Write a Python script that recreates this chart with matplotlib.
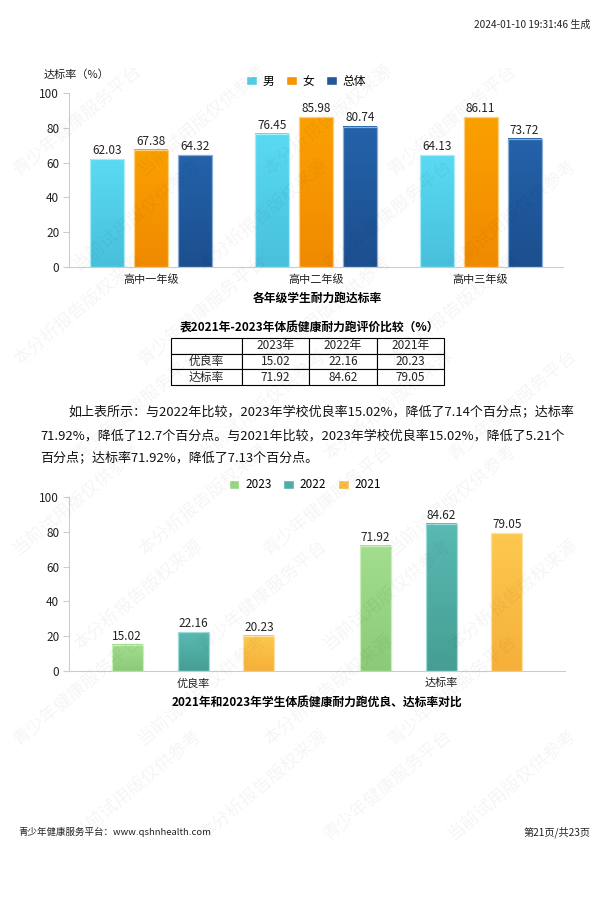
import matplotlib
matplotlib.use('Agg')
import matplotlib.pyplot as plt
import numpy as np
from matplotlib.colors import LinearSegmentedColormap
from matplotlib.patches import Patch

plt.rcParams['font.family'] = ['Noto Sans CJK SC', 'DejaVu Sans']

W, H = 611, 899

# 各年级达标率
grades = ['高中一年级', '高中二年级', '高中三年级']
boys = [62.03, 76.45, 64.13]
girls = [67.38, 85.98, 86.11]
total = [64.32, 80.74, 73.72]
sex_names = ['男', '女', '总体']

# 三年对比
years = ['2023', '2022', '2021']
rate_names = ['优良率', '达标率']
rate_2023 = [15.02, 71.92]
rate_2022 = [22.16, 84.62]
rate_2021 = [20.23, 79.05]

yticks = [0, 20, 40, 60, 80, 100]

table_cols = ['', '2023年', '2022年', '2021年']
table_rows = [['优良率', '15.02', '22.16', '20.23'],
              ['达标率', '71.92', '84.62', '79.05']]

para = ['如上表所示：与2022年比较，2023年学校优良率15.02%，降低了7.14个百分点；达标率',
        '71.92%，降低了12.7个百分点。与2021年比较，2023年学校优良率15.02%，降低了5.21个',
        '百分点；达标率71.92%，降低了7.13个百分点。']

marks = ['青少年健康服务平台', '当前试用版仅供参考', '本分析报告版权来源']


def box(x0, y0, x1, y1):
    return [x0 / W, 1 - y1 / H, (x1 - x0) / W, (y1 - y0) / H]


def grad_bars(ax, x, vals, width, top, bottom, edge):
    bars = ax.bar(x, vals, width, color='none', edgecolor=edge, linewidth=0.9, zorder=3)
    cm = LinearSegmentedColormap.from_list('g', [bottom, top])
    grad = np.linspace(0, 1, 64).reshape(-1, 1)
    for b, v in zip(bars, vals):
        x0 = b.get_x()
        ax.imshow(grad, cmap=cm, origin='lower', aspect='auto', zorder=2,
                  extent=[x0, x0 + b.get_width(), 0, v])
        ax.text(x0 + b.get_width() / 2, v + 1.2, f'{v:.2f}', ha='center', va='bottom',
                fontsize=8.5, color='#222222', zorder=4)


def style(ax, n):
    ax.set_xlim(-0.5, n - 0.5)
    ax.set_ylim(0, 100)
    ax.set_yticks(yticks)
    for s in ['top', 'right']:
        ax.spines[s].set_visible(False)
    ax.spines['left'].set_color('#cccccc')
    ax.spines['bottom'].set_color('#cccccc')
    ax.tick_params(axis='y', length=4, color='#cccccc', labelsize=8.5, labelcolor='#222222', pad=3)
    ax.tick_params(axis='x', length=0, labelsize=8, labelcolor='#222222', pad=5)


fig = plt.figure(figsize=(W / 100, H / 100), dpi=100)

# chart 1
ax1 = fig.add_axes(box(69, 93, 563, 267))
x = np.arange(len(grades))
grad_bars(ax1, x - 0.267, boys, 0.206, '#5adaf2', '#48c0dc', '#a8ecf8')
grad_bars(ax1, x, girls, 0.206, '#fba000', '#f08a00', '#fcd080')
grad_bars(ax1, x + 0.267, total, 0.206, '#2462aa', '#1c4f8e', '#8aaed8')
style(ax1, len(grades))
ax1.set_xticks(x)
ax1.set_xticklabels(grades)
h1 = [Patch(facecolor=c, edgecolor='#ffffff') for c in ['#52cde6', '#f59500', '#21589c']]
fig.legend(h1, sex_names, loc='center', bbox_to_anchor=(306 / W, 1 - 81 / H), ncol=3,
           frameon=False, fontsize=8.5, handlelength=0.9, handleheight=0.9,
           handletextpad=0.5, columnspacing=1.0)
fig.text(44 / W, 1 - 75 / H, '达标率（%）', fontsize=8, color='#222222', va='center')
fig.text(317 / W, 1 - 298 / H, '各年级学生耐力跑达标率', fontsize=8.5, fontweight='bold',
         ha='center', va='center')

# table
fig.text(310 / W, 1 - 328 / H, '表2021年-2023年体质健康耐力跑评价比较（%）', fontsize=8.5,
         fontweight='bold', ha='center', va='center')
tax = fig.add_axes(box(171, 338, 444, 385))
tax.axis('off')
tb = tax.table(cellText=table_rows, colLabels=table_cols, cellLoc='center',
               bbox=[0, 0, 1, 1], colWidths=[0.26, 0.245, 0.25, 0.245])
tb.auto_set_font_size(False)
tb.set_fontsize(8.5)
for cell in tb.get_celld().values():
    cell.set_linewidth(0.8)
    cell.set_edgecolor('#000000')
    cell.get_text().set_color('#222222')

# paragraph
fig.text(68 / W, 1 - 413 / H, para[0], fontsize=9.4, va='center', color='#111111')
fig.text(40 / W, 1 - 436 / H, para[1], fontsize=9.4, va='center', color='#111111')
fig.text(40 / W, 1 - 459 / H, para[2], fontsize=9.4, va='center', color='#111111')

# chart 2
ax2 = fig.add_axes(box(69, 497, 565, 671))
x2 = np.arange(len(rate_names))
grad_bars(ax2, x2 - 0.266, rate_2023, 0.125, '#a2de8e', '#8cca78', '#c8f0b8')
grad_bars(ax2, x2, rate_2022, 0.125, '#58bab2', '#469e94', '#a0dcd6')
grad_bars(ax2, x2 + 0.266, rate_2021, 0.125, '#fdc84e', '#f5b03a', '#fde2a0')
style(ax2, len(rate_names))
ax2.set_xticks(x2)
ax2.set_xticklabels(rate_names)
h2 = [Patch(facecolor=c, edgecolor='#ffffff') for c in ['#96d482', '#50ada4', '#f9bc44']]
fig.legend(h2, years, loc='center', bbox_to_anchor=(305 / W, 1 - 485 / H), ncol=3,
           frameon=False, fontsize=8.5, handlelength=0.9, handleheight=0.9,
           handletextpad=0.5, columnspacing=1.0)
fig.text(317 / W, 1 - 703 / H, '2021年和2023年学生体质健康耐力跑优良、达标率对比', fontsize=8.5,
         fontweight='bold', ha='center', va='center')

# header / footer
fig.text(591 / W, 1 - 25 / H, '2024-01-10 19:31:46 生成', fontsize=7.3, ha='right', va='center',
         color='#222222')
fig.text(18 / W, 1 - 832 / H, '青少年健康服务平台：www.qshnhealth.com', fontsize=6.8, va='center',
         color='#222222')
fig.text(591 / W, 1 - 832 / H, '第21页/共23页', fontsize=7.3, ha='right', va='center',
         color='#222222')

# watermark
k = 0
for j, yy in enumerate(range(120, 800, 95)):
    for xx in range(78 + (j % 2) * 60, 540, 125):
        fig.text(xx / W, 1 - yy / H, marks[k % 3], fontsize=13, rotation=40,
                 ha='center', va='center', color='#000000', alpha=0.045, zorder=10)
        k += 1

fig.savefig('out.png', dpi=100)
